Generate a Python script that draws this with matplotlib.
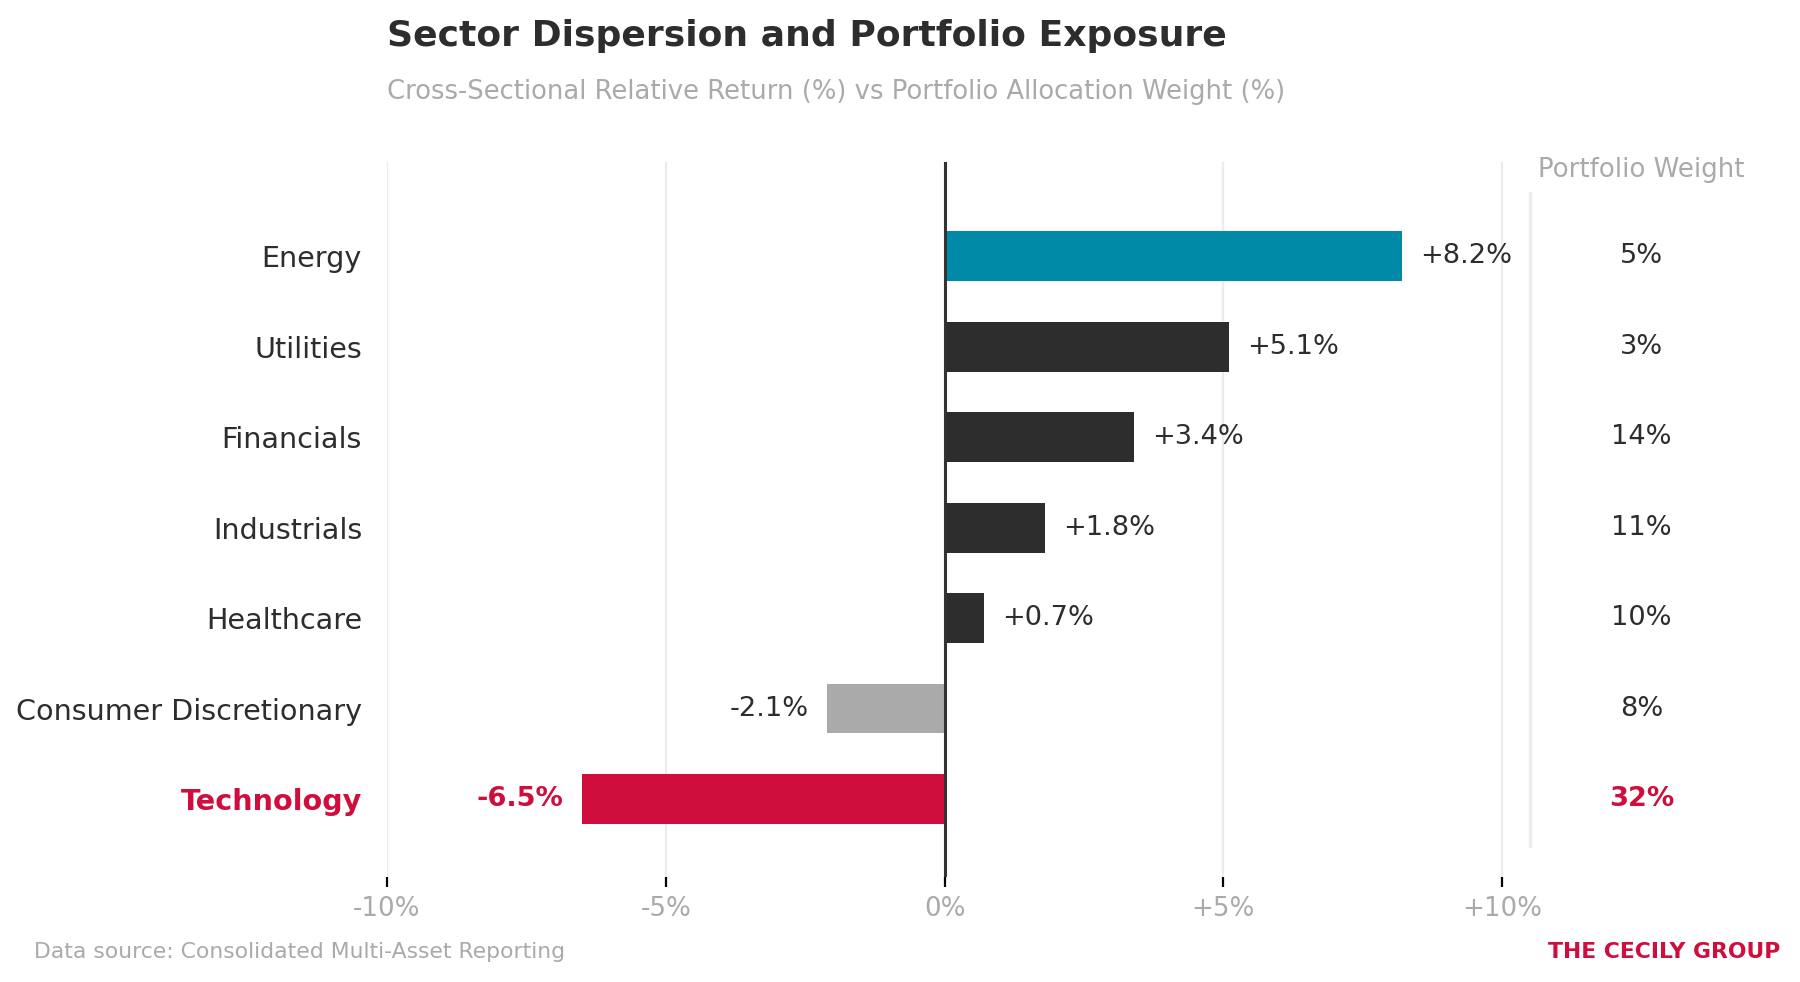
import matplotlib
matplotlib.use('Agg')
import matplotlib.pyplot as plt

# data
sectors = ['Energy', 'Utilities', 'Financials', 'Industrials', 'Healthcare',
           'Consumer Discretionary', 'Technology']
rel_return = [8.2, 5.1, 3.4, 1.8, 0.7, -2.1, -6.5]
weights = [5, 3, 14, 11, 10, 8, 32]
xticks = [-10, -5, 0, 5, 10]
xtick_labels = ['-10%', '-5%', '0%', '+5%', '+10%']

DARK = '#2d2d2d'
GREY = '#aaaaaa'
TEAL = '#008aa8'
RED = '#cf0e3d'
bar_colors = [TEAL, DARK, DARK, DARK, DARK, GREY, RED]

fig = plt.figure(figsize=(9, 4.91), dpi=200)
ax = fig.add_axes([0.215, 0.107, 0.635, 0.728])

ypos = list(range(len(sectors)))
ax.barh(ypos, rel_return, height=0.55, color=bar_colors, zorder=2)

ax.set_xlim(-10, 10.5)
ax.set_ylim(6.86, -1.04)
ax.set_xticks(xticks)
ax.set_xticklabels(xtick_labels, fontsize=9.4, color=GREY)
ax.set_yticks(ypos)
ax.set_yticklabels(sectors, fontsize=10.3, color=DARK)
ax.tick_params(axis='y', length=0, pad=9)
ax.tick_params(axis='x', color='black', length=3.5, width=0.8)
for sp in ax.spines.values():
    sp.set_visible(False)
for x in xticks:
    ax.axvline(x, color='#ececec', lw=0.8, zorder=0)
ax.axvline(0, color='#333333', lw=1.1, zorder=3)

lab = ax.get_yticklabels()[-1]
lab.set_color(RED)
lab.set_fontweight('bold')

# value labels
for i, v in enumerate(rel_return):
    is_tech = sectors[i] == 'Technology'
    txt = f'+{v:.1f}%' if v > 0 else f'{v:.1f}%'
    off = 0.33 if v > 0 else -0.33
    ax.text(v + off, i, txt, va='center', ha='left' if v > 0 else 'right',
            fontsize=9.8, color=RED if is_tech else DARK,
            fontweight='bold' if is_tech else 'normal')

# weight column
ax.plot([10.5, 10.5], [-0.7, 6.52], color='#ececec', lw=1.2, clip_on=False)
ax.text(12.5, -0.95, 'Portfolio Weight', ha='center', va='center',
        fontsize=9.35, color=GREY, clip_on=False)
for i, w in enumerate(weights):
    is_tech = sectors[i] == 'Technology'
    ax.text(12.5, i, f'{w}%', ha='center', va='center', fontsize=9.8,
            color=RED if is_tech else DARK,
            fontweight='bold' if is_tech else 'normal', clip_on=False)

fig.text(0.215, 0.963, 'Sector Dispersion and Portfolio Exposure',
         fontsize=13.0, fontweight='bold', color=DARK, va='center')
fig.text(0.215, 0.906, 'Cross-Sectional Relative Return (%) vs Portfolio Allocation Weight (%)',
         fontsize=9.3, color=GREY, va='center')
fig.text(0.019, 0.031, 'Data source: Consolidated Multi-Asset Reporting',
         fontsize=7.9, color=GREY, va='center')
fig.text(0.989, 0.031, 'THE CECILY GROUP', fontsize=7.9, fontweight='bold',
         color=RED, va='center', ha='right')

fig.savefig('out.png', dpi=200, facecolor='white')
